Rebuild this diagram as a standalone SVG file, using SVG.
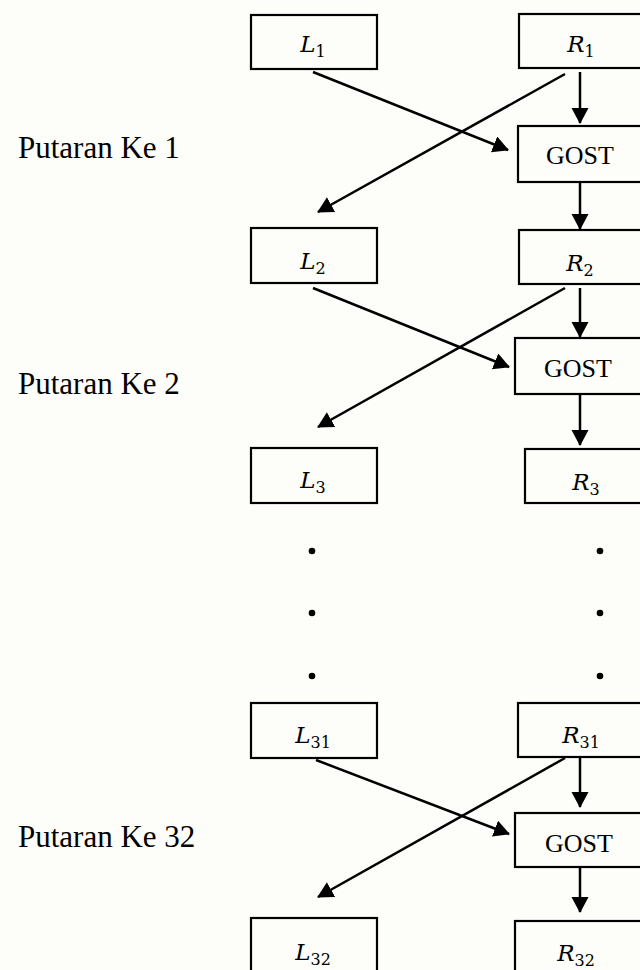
<svg xmlns="http://www.w3.org/2000/svg" width="640" height="970" viewBox="0 0 640 970">
<defs>
<style>
.box{fill:none;stroke:#000;stroke-width:2.2}
.lbl{font-family:"DejaVu Serif","Liberation Serif",serif;font-size:23px;fill:#000;text-anchor:middle}
.it{font-style:italic}
.sub{font-size:16px;font-style:normal}
.gost{font-family:"Liberation Serif","Times New Roman",serif;font-size:26px;fill:#000;text-anchor:middle}
.put{font-family:"Liberation Serif","Times New Roman",serif;font-size:31px;fill:#000}
.con line{stroke:#000;stroke-width:2.5;marker-end:url(#ah)}
</style>
<marker id="ah" markerUnits="userSpaceOnUse" markerWidth="20" markerHeight="20" refX="15" refY="8.5" orient="auto" viewBox="0 0 20 20">
<path d="M0,0 L16,8.5 L0,17 z" fill="#000"/>
</marker>
</defs>
<rect width="640" height="970" fill="#fdfdf9"/>

<g id="L1"><rect class="box" x="251" y="15" width="126" height="54"/><text class="lbl" x="313" y="52"><tspan class="it">L</tspan><tspan class="sub" dy="5">1</tspan></text></g>
<g id="R1"><rect class="box" x="519" y="14" width="124" height="54"/><text class="lbl" x="581" y="52"><tspan class="it">R</tspan><tspan class="sub" dy="5">1</tspan></text></g>
<g id="GOST1"><rect class="box" x="518" y="126" width="125" height="56"/><text class="gost" x="580" y="164">GOST</text></g>
<g id="L2"><rect class="box" x="251" y="228" width="126" height="55"/><text class="lbl" x="313" y="269"><tspan class="it">L</tspan><tspan class="sub" dy="5">2</tspan></text></g>
<g id="R2"><rect class="box" x="519" y="230" width="124" height="54"/><text class="lbl" x="580" y="271"><tspan class="it">R</tspan><tspan class="sub" dy="5">2</tspan></text></g>
<g id="GOST2"><rect class="box" x="515" y="338" width="128" height="56"/><text class="gost" x="578" y="377">GOST</text></g>
<g id="L3"><rect class="box" x="251" y="448" width="126" height="55"/><text class="lbl" x="313" y="488"><tspan class="it">L</tspan><tspan class="sub" dy="5">3</tspan></text></g>
<g id="R3"><rect class="box" x="525" y="449" width="118" height="54"/><text class="lbl" x="586" y="490"><tspan class="it">R</tspan><tspan class="sub" dy="5">3</tspan></text></g>
<g id="dots">
<circle cx="312" cy="551" r="3.3"/><circle cx="312" cy="613" r="3.3"/><circle cx="312" cy="676" r="3.3"/>
<circle cx="600" cy="551" r="3.3"/><circle cx="600" cy="613" r="3.3"/><circle cx="600" cy="676" r="3.3"/>
</g>
<g id="L31"><rect class="box" x="251" y="703" width="126" height="55"/><text class="lbl" x="313" y="743"><tspan class="it">L</tspan><tspan class="sub" dy="5">31</tspan></text></g>
<g id="R31"><rect class="box" x="518" y="703" width="125" height="54"/><text class="lbl" x="581" y="743"><tspan class="it">R</tspan><tspan class="sub" dy="5">31</tspan></text></g>
<g id="GOST3"><rect class="box" x="515" y="813" width="128" height="54"/><text class="gost" x="579" y="852">GOST</text></g>
<g id="L32"><rect class="box" x="251" y="918" width="126" height="60"/><text class="lbl" x="313" y="960"><tspan class="it">L</tspan><tspan class="sub" dy="5">32</tspan></text></g>
<g id="R32"><rect class="box" x="515" y="921" width="128" height="60"/><text class="lbl" x="576" y="961"><tspan class="it">R</tspan><tspan class="sub" dy="5">32</tspan></text></g>

<g id="labels">
<text class="put" x="18" y="158">Putaran Ke 1</text>
<text class="put" x="18" y="394">Putaran Ke 2</text>
<text class="put" x="18" y="847">Putaran Ke 32</text>
</g>

<g id="connectors" class="con">
<line x1="313" y1="72" x2="508" y2="150"/>
<line x1="580" y1="72" x2="580" y2="123"/>
<line x1="565" y1="74" x2="318" y2="212"/>
<line x1="580" y1="182" x2="580" y2="229"/>
<line x1="313" y1="288" x2="509" y2="367"/>
<line x1="580" y1="288" x2="580" y2="337"/>
<line x1="565" y1="288" x2="318" y2="427"/>
<line x1="580" y1="394" x2="580" y2="445"/>
<line x1="316" y1="760" x2="509" y2="834"/>
<line x1="580" y1="758" x2="580" y2="807"/>
<line x1="565" y1="758" x2="318" y2="897"/>
<line x1="580" y1="867" x2="580" y2="912"/>
</g>
</svg>
